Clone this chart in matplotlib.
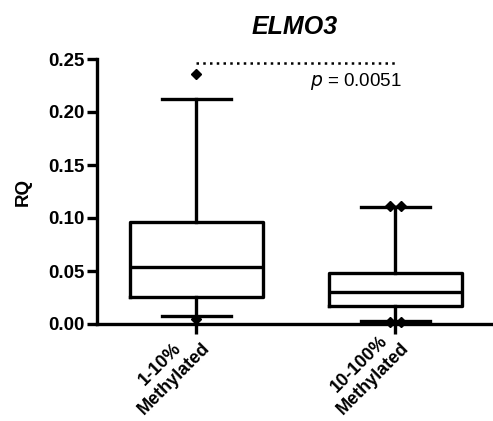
import matplotlib
matplotlib.use("Agg")
import matplotlib.pyplot as plt
import matplotlib.transforms as mtransforms
import numpy as np

plt.rcParams['font.family'] = ['Liberation Sans', 'DejaVu Sans']

categories = ["1-10%\nMethylated", "10-100%\nMethylated"]
whislo = [0.0075, 0.003]
q1 = [0.0255, 0.017]
med = [0.0538, 0.030]
q3 = [0.0962, 0.048]
whishi = [0.212, 0.110]
outliers_vals = [[0.236, 0.005], [0.111, 0.111, 0.002, 0.002]]
outlier_jitter = [[0.0, 0.0], [-0.03, 0.03, -0.03, 0.03]]
p_text = "0.0051"
p_line_y = 0.246
yticks = [0.00, 0.05, 0.10, 0.15, 0.20, 0.25]
title = "ELMO3"
ylabel = "RQ"

fig = plt.figure(figsize=(4.93, 4.21), dpi=100)
ax = fig.add_axes([97/493, 97/421, 1 - 97/493, (324-59)/421])

lw = 2.4
stats = []
for i in range(len(categories)):
    stats.append(dict(whislo=whislo[i], q1=q1[i], med=med[i], q3=q3[i],
                      whishi=whishi[i], fliers=[], label=categories[i]))
pos = np.arange(len(categories))
ax.bxp(stats, positions=pos, widths=0.668, showfliers=False,
       boxprops=dict(color='black', linewidth=lw),
       whiskerprops=dict(color='black', linewidth=lw),
       capprops=dict(color='black', linewidth=lw),
       medianprops=dict(color='black', linewidth=lw),
       capwidths=0.347, manage_ticks=False)

for i, (vals, jit) in enumerate(zip(outliers_vals, outlier_jitter)):
    xs = [pos[i] + j for j in jit]
    ax.plot(xs, vals, linestyle='none', marker='D', markersize=5.5,
            color='black', clip_on=False, zorder=5)

ax.plot([pos[0], pos[1]], [p_line_y, p_line_y], color='black',
        linewidth=1.8, linestyle=(0, (1, 1.7)))
ax.text(pos[1] + 0.03, p_line_y - 0.007, r"$p$ = " + p_text, ha='right', va='top',
        fontsize=13.5)

ax.set_xlim(-0.5, 1.49)
ax.set_ylim(0, 0.25)
ax.set_yticks(yticks)
ax.set_yticklabels([f"{t:.2f}" for t in yticks], fontsize=13.5, fontweight='bold')
ax.set_xticks(pos)
ax.set_xticklabels(categories, rotation=45, ha='right', va='top',
                   rotation_mode='anchor', multialignment='center',
                   fontsize=13, fontweight='bold')
ax.tick_params(axis='both', width=lw, length=7, color='black')
ax.tick_params(axis='y', pad=2)
ax.tick_params(axis='x', pad=4)
offset = mtransforms.ScaledTranslation(-9/100, 14/100, fig.dpi_scale_trans)
for lab in ax.get_xticklabels():
    lab.set_transform(lab.get_transform() + offset)

for s in ['top', 'right']:
    ax.spines[s].set_visible(False)
for s in ['left', 'bottom']:
    ax.spines[s].set_linewidth(lw)
ax.spines['left'].set_bounds(0, 0.25)

ax.set_title(title, fontsize=18, fontweight='bold', fontstyle='italic', pad=18)
ax.set_ylabel(ylabel, fontsize=13.5, fontweight='bold', labelpad=12)

fig.savefig("out.png", dpi=100)
